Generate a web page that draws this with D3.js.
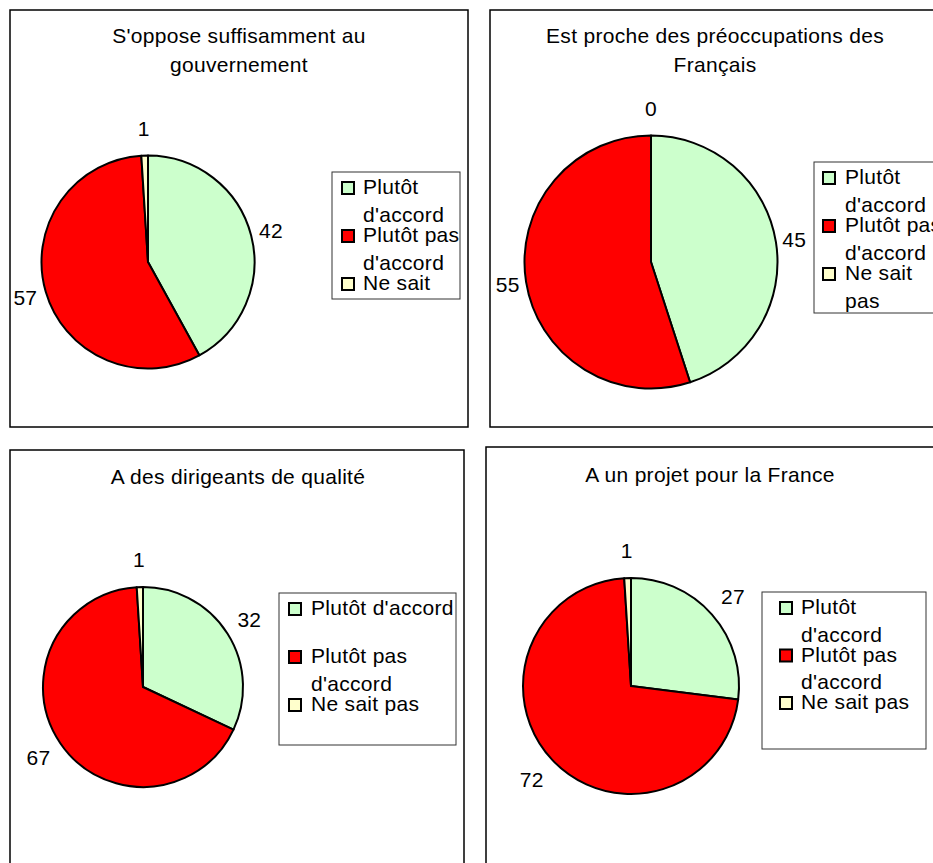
<!DOCTYPE html>
<meta charset="utf-8">
<style>
    body { margin: 0; background: #fff; }
    svg text {
        font-family: "Liberation Sans", Arial, sans-serif;
        font-size: 21px;
        letter-spacing: 0.3px;
        fill: #000;
    }
    .frame { fill: none; stroke: #000; stroke-width: 1.5px; }
    .legend-box { fill: #fff; stroke: #333; stroke-width: 1px; }
    .slice { stroke: #000; stroke-width: 2px; stroke-linejoin: round; }
    .swatch { stroke: #000; stroke-width: 2px; }
</style>
<svg class="charts" width="933" height="863"></svg>
<script src="https://cdn.jsdelivr.net/npm/d3@7"></script>
<script>
    // survey answers, in percent
    var categories = ["Plutôt d'accord", "Plutôt pas d'accord", "Ne sait pas"];
    var titles = [
        ["S'oppose suffisamment au", "gouvernement"],
        ["Est proche des préoccupations des", "Français"],
        ["A des dirigeants de qualité"],
        ["A un projet pour la France"]
    ];
    var opposeValues = [42, 57, 1];
    var procheValues = [45, 55, 0];
    var dirigeantsValues = [32, 67, 1];
    var projetValues = [27, 72, 1];

    var color = d3.scaleOrdinal()
        .domain(categories)
        .range(["#ccffcc", "#ff0000", "#ffffcc"]);

    // where each little chart sits on the page
    var panels = [
        { values: opposeValues, title: titles[0], x: 10, y: 10, w: 458, h: 417, tx: 239, ty: 43,
          cx: 148, cy: 262, r: 106.5,
          legend: { x: 332, y: 172, w: 128, h: 127, sx: 10, tx: 31, maxW: 102, pitch: 48 } },
        { values: procheValues, title: titles[1], x: 490, y: 10, w: 455, h: 417, tx: 715, ty: 43,
          cx: 651, cy: 262, r: 126.5,
          legend: { x: 814, y: 162, w: 140, h: 151, sx: 9, tx: 31, maxW: 102, pitch: 48 } },
        { values: dirigeantsValues, title: titles[2], x: 10, y: 450, w: 454, h: 430, tx: 238, ty: 484,
          cx: 143, cy: 687, r: 100,
          legend: { x: 279, y: 593, w: 177, h: 152, sx: 10, tx: 32, maxW: 150, pitch: 48 } },
        { values: projetValues, title: titles[3], x: 486, y: 447, w: 460, h: 430, tx: 710, ty: 482,
          cx: 631, cy: 686, r: 108,
          legend: { x: 762, y: 592, w: 164, h: 157, sx: 18, tx: 39, maxW: 125, pitch: 47.5 } }
    ];

    var svg = d3.select(".charts");
    var measure = svg.append("text").attr("visibility", "hidden");

    function textWidth(s) {
        measure.text(s);
        return measure.node().getComputedTextLength();
    }

    function wrap(s, maxW) {
        var words = s.split(" "), lines = [], line = "";
        words.forEach(function (w) {
            var test = line ? line + " " + w : w;
            if (line && textWidth(test) > maxW) {
                lines.push(line);
                line = w;
            } else {
                line = test;
            }
        });
        lines.push(line);
        return lines;
    }

    var pie = d3.pie().sort(null).value(function (d) { return d.value; });

    function drawPanel(p, idx) {
        var g = svg.append("g");

        g.append("rect").attr("class", "frame")
            .attr("x", p.x).attr("y", p.y).attr("width", p.w).attr("height", p.h);

        g.selectAll("text.title")
            .data(p.title)
            .enter().append("text")
            .attr("class", "title")
            .attr("x", p.tx)
            .attr("y", function (d, i) { return p.ty + i * 29; })
            .attr("text-anchor", "middle")
            .text(function (d) { return d; });

        var data = categories.map(function (c, i) { return { name: c, value: p.values[i] }; });
        var arcs = pie(data);
        var arc = d3.arc().innerRadius(0).outerRadius(p.r);

        var pieG = g.append("g").attr("transform", "translate(" + p.cx + "," + p.cy + ")");

        pieG.selectAll("path")
            .data(arcs.filter(function (d) { return d.value > 0; }))
            .enter().append("path")
            .attr("class", "slice")
            .attr("fill", function (d) { return color(d.data.name); })
            .attr("d", arc);

        pieG.selectAll("text.value")
            .data(arcs)
            .enter().append("text")
            .attr("class", "value")
            .attr("text-anchor", "middle")
            .attr("dy", ".35em")
            .text(function (d) { return d.value; })
            .attr("x", function (d) {
                var a = (d.startAngle + d.endAngle) / 2;
                return Math.sin(a) * labelDist(d, a, p.r);
            })
            .attr("y", function (d) {
                var a = (d.startAngle + d.endAngle) / 2;
                return -Math.cos(a) * labelDist(d, a, p.r);
            });

        // legend
        var L = p.legend;
        var clipId = "legclip" + idx;
        g.append("clipPath").attr("id", clipId)
            .append("rect").attr("x", L.x).attr("y", L.y).attr("width", L.w).attr("height", L.h);

        g.append("rect").attr("class", "legend-box")
            .attr("x", L.x).attr("y", L.y).attr("width", L.w).attr("height", L.h);

        var leg = g.append("g").attr("clip-path", "url(#" + clipId + ")");
        var item = leg.selectAll("g")
            .data(categories)
            .enter().append("g")
            .attr("transform", function (d, i) {
                return "translate(" + L.x + "," + (L.y + 22 + i * L.pitch) + ")";
            });

        item.append("rect").attr("class", "swatch")
            .attr("x", L.sx).attr("y", -12)
            .attr("width", 12).attr("height", 12)
            .attr("fill", function (d) { return color(d); });

        item.append("text")
            .attr("x", L.tx)
            .each(function (d) {
                var t = d3.select(this);
                wrap(d, L.maxW).forEach(function (line, j) {
                    t.append("tspan").attr("x", L.tx).attr("y", j * 27.5).text(line);
                });
            });
    }

    function labelDist(d, a, r) {
        var halfW = textWidth(String(d.value)) / 2;
        return r + 3 + halfW * Math.abs(Math.sin(a)) + 24 * Math.abs(Math.cos(a));
    }

    panels.forEach(drawPanel);
    measure.remove();
</script>
